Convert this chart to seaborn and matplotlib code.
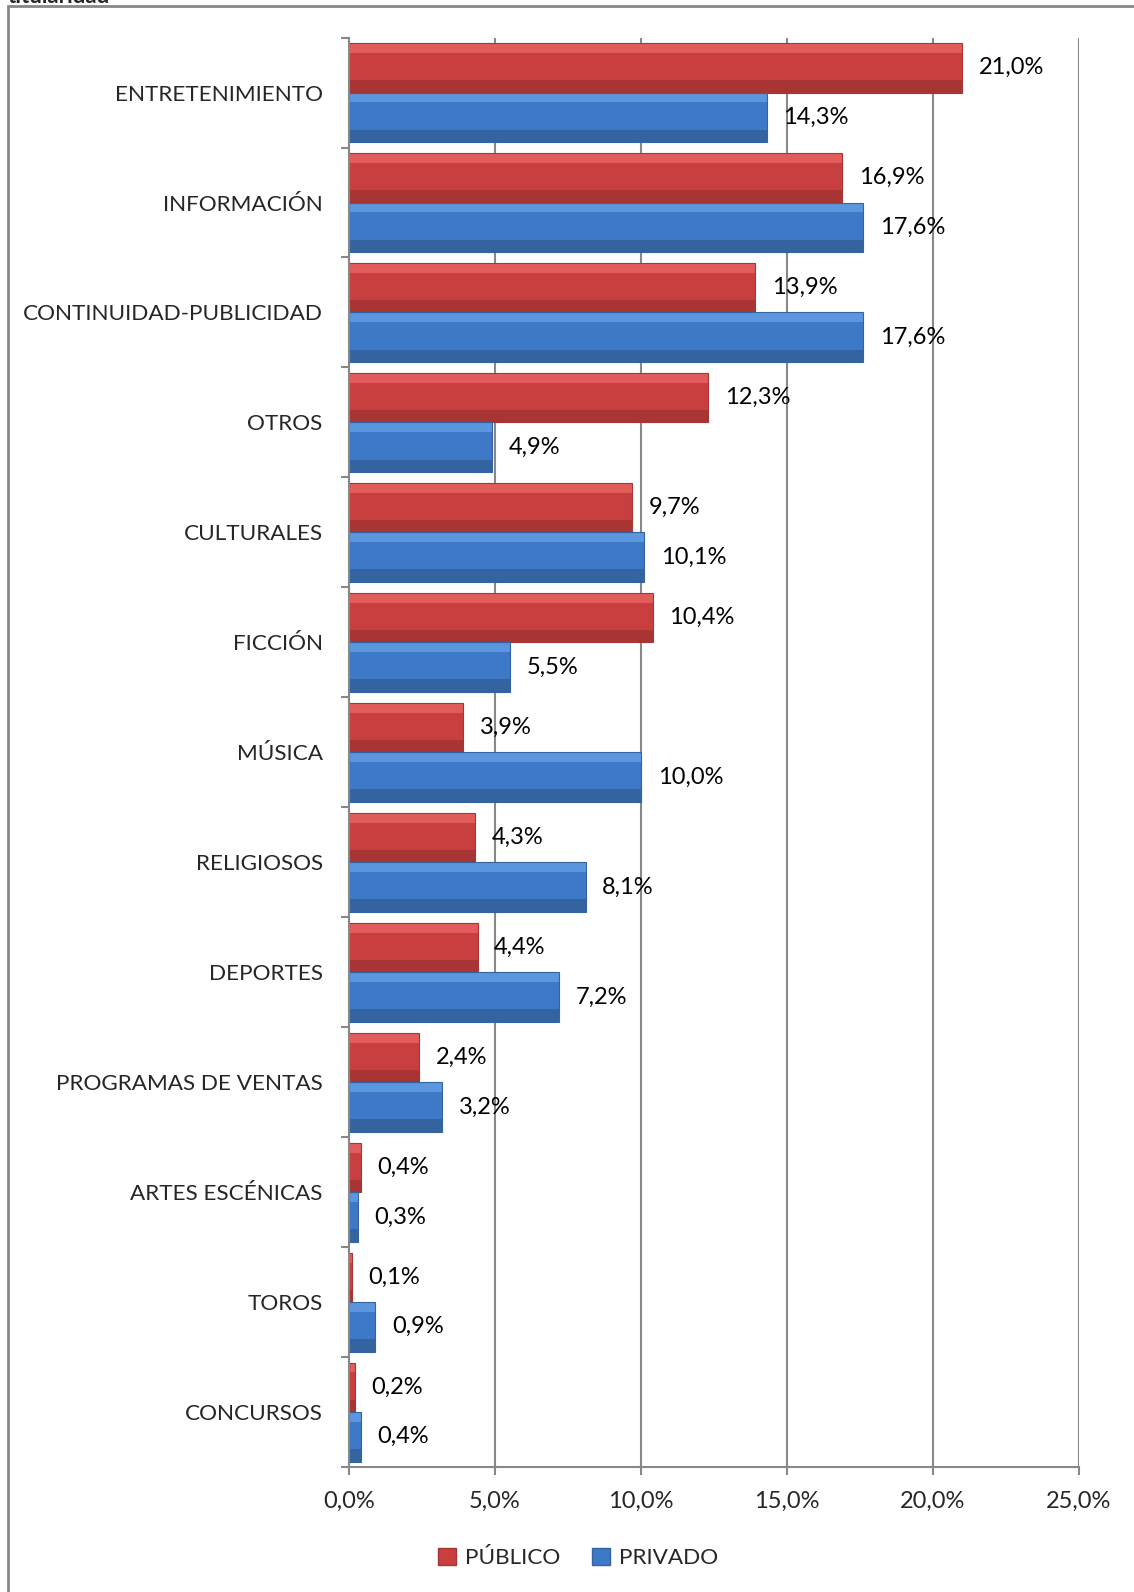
import matplotlib
matplotlib.use("Agg")
import matplotlib.pyplot as plt
import matplotlib.patches as mpatches
import numpy as np
import pandas as pd
import seaborn as sns

categorias = ["ENTRETENIMIENTO", "INFORMACIÓN", "CONTINUIDAD-PUBLICIDAD", "OTROS",
              "CULTURALES", "FICCIÓN", "MÚSICA", "RELIGIOSOS", "DEPORTES",
              "PROGRAMAS DE VENTAS", "ARTES ESCÉNICAS", "TOROS", "CONCURSOS"]
publico = [21.0, 16.9, 13.9, 12.3, 9.7, 10.4, 3.9, 4.3, 4.4, 2.4, 0.4, 0.1, 0.2]
privado = [14.3, 17.6, 17.6, 4.9, 10.1, 5.5, 10.0, 8.1, 7.2, 3.2, 0.3, 0.9, 0.4]
series = ["PÚBLICO", "PRIVADO"]
colores = {"PÚBLICO": "#C93F3F", "PRIVADO": "#3D79C6"}
brillo = {"PÚBLICO": "#E25C5C", "PRIVADO": "#5C96DE"}
sombra = {"PÚBLICO": "#A83434", "PRIVADO": "#33649F"}
xticks = [0, 5, 10, 15, 20, 25]

df = pd.DataFrame({
    "Categoria": categorias * 2,
    "Valor": publico + privado,
    "Tipo": [series[0]] * len(categorias) + [series[1]] * len(categorias),
})

sns.set_style("white")
plt.rcParams["font.family"] = ["Lato", "DejaVu Sans"]

fig = plt.figure(figsize=(11.34, 15.92), dpi=100)
ax = fig.add_axes([0.3078, 0.0785, 0.6437, 0.8979])

sns.barplot(data=df, x="Valor", y="Categoria", hue="Tipo", orient="h",
            palette=colores, width=0.9, ax=ax, legend=False, saturation=1,
            linewidth=0)

# soft bevel look: lighter top, darker bottom of each bar
for cont, s in zip(ax.containers, series):
    for bar in cont:
        x0, y0, w, h = bar.get_x(), bar.get_y(), bar.get_width(), bar.get_height()
        z = bar.get_zorder() + 0.1
        ax.add_patch(mpatches.Rectangle((x0, y0), w, h * 0.2, facecolor=brillo[s],
                                        linewidth=0, zorder=z))
        ax.add_patch(mpatches.Rectangle((x0, y0 + h * 0.75), w, h * 0.25, facecolor=sombra[s],
                                        linewidth=0, zorder=z))
        ax.add_patch(mpatches.Rectangle((x0, y0), w, h, fill=False,
                                        edgecolor=sombra[s], linewidth=0.8, zorder=z + 0.1))

# value labels
for cont, vals in zip(ax.containers, [publico, privado]):
    labs = [f"{v:.1f}%".replace(".", ",") for v in vals]
    ax.bar_label(cont, labels=labs, padding=12, fontsize=17, color="black")

ax.set_xlim(0, 25)
ax.set_ylim(12.5, -0.5)
ax.set_xticks(xticks)
ax.set_xticklabels([f"{t:.1f}%".replace(".", ",") for t in xticks], fontsize=17)
ax.set_xlabel("")
ax.set_ylabel("")
ax.tick_params(axis="y", which="major", length=0, pad=19, labelsize=16.2)
ax.set_yticks(np.arange(-0.5, 13, 1), minor=True)
ax.tick_params(axis="y", which="minor", length=6, width=1.5, color="#888888", direction="out", left=True)
ax.tick_params(axis="x", which="major", length=6, width=1.5, color="#888888", direction="out", bottom=True, pad=11)

ax.grid(axis="x", color="#888888", linewidth=1.5)
ax.set_axisbelow(True)
for s in ["top", "right"]:
    ax.spines[s].set_visible(False)
for s in ["left", "bottom"]:
    ax.spines[s].set_color("#888888")
    ax.spines[s].set_linewidth(1.5)

# legend
handles = [mpatches.Patch(facecolor=colores[s], edgecolor=sombra[s], linewidth=1, label=s) for s in series]
fig.legend(handles=handles, loc="center", bbox_to_anchor=(0.51, 1 - 1558 / 1592), ncol=2,
           frameon=False, fontsize=16.2, handlelength=0.8, handleheight=0.8,
           handletextpad=0.4, columnspacing=1.4)

# outer frame of the chart area (cropped in the original)
frame = mpatches.Rectangle((8 / 1134, -0.05), 1.2, 1 - 6 / 1592 + 0.05, transform=fig.transFigure,
                           fill=False, edgecolor="#888888", linewidth=2, clip_on=False)
fig.patches.append(frame)

# cut-off title above the frame
fig.text(8 / 1134, 1 - 3 / 1592, "titularidad", fontsize=16, fontweight="bold",
         ha="left", va="baseline")

fig.savefig("out.png", dpi=100)
